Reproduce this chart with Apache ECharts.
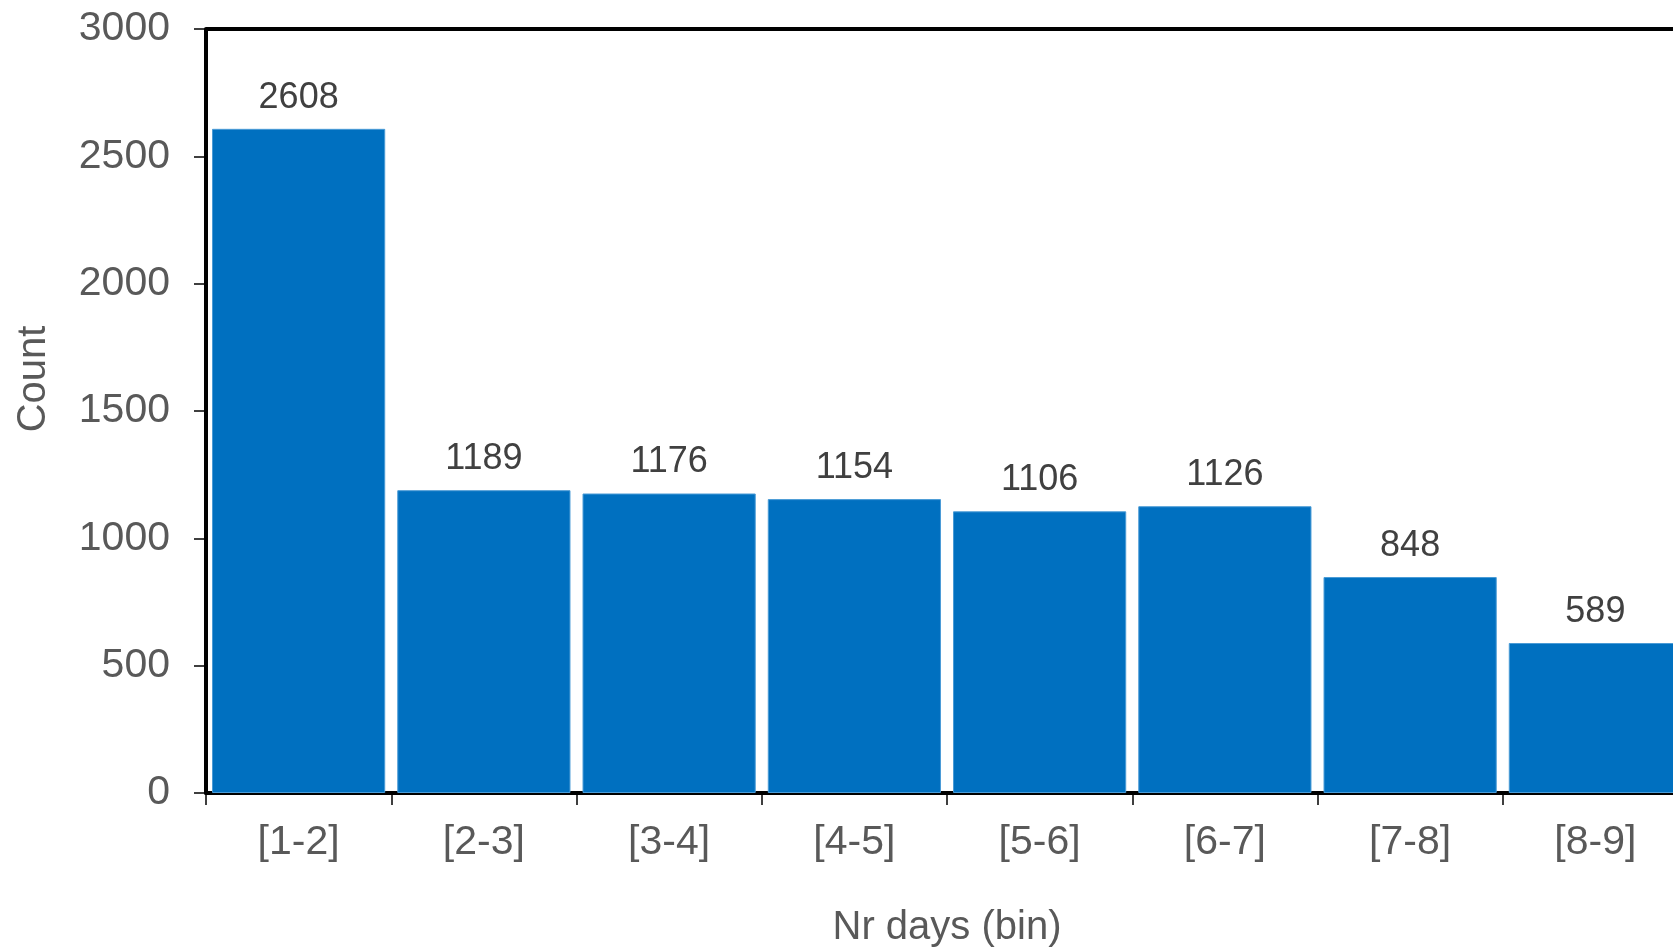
<!DOCTYPE html>
<html>
<head>
<meta charset="utf-8">
<script src="https://cdn.jsdelivr.net/npm/echarts@6/dist/echarts.min.js"></script>
<style>
html,body{margin:0;padding:0;background:#fff;}
#chart{width:1673px;height:949px;}
</style>
</head>
<body>
<div id="chart"></div>
<script>
const categories = ['[1-2]','[2-3]','[3-4]','[4-5]','[5-6]','[6-7]','[7-8]','[8-9]'];
const counts = [2608, 1189, 1176, 1154, 1106, 1126, 848, 589];
const xAxisName = 'Nr days (bin)';
const yAxisName = 'Count';

const FONT = '"Liberation Sans", Arial, sans-serif';
const chart = echarts.init(document.getElementById('chart'));
chart.setOption({
  animation: false,
  backgroundColor: '#ffffff',
  grid: { left: 206, top: 29, height: 764, width: 1482, containLabel: false,
          outerBoundsMode: 'none', show: false },
  xAxis: {
    type: 'category',
    data: categories,
    name: xAxisName,
    nameLocation: 'middle',
    nameGap: 115,
    nameTextStyle: { fontSize: 40, color: '#595959', fontFamily: FONT },
    axisLine: { show: true, lineStyle: { color: '#000', width: 4 } },
    axisTick: { show: true, length: 12, lineStyle: { color: '#000', width: 1.5 } },
    axisLabel: { fontSize: 41, color: '#595959', fontFamily: FONT, margin: 29 },
    splitLine: { show: false }
  },
  yAxis: {
    type: 'value',
    min: 0, max: 3000, interval: 500,
    name: yAxisName,
    nameLocation: 'middle',
    nameGap: 152,
    nameTextStyle: { fontSize: 40, color: '#595959', fontFamily: FONT, padding: [0, 0, 0, 64] },
    axisLine: { show: true, lineStyle: { color: '#000', width: 4 } },
    axisTick: { show: true, length: 12, lineStyle: { color: '#000', width: 1.5 } },
    axisLabel: { fontSize: 41, color: '#595959', fontFamily: FONT, margin: 36,
                 formatter: function (v) { return String(v); } },
    splitLine: { show: false }
  },
  series: [{
    type: 'bar',
    data: counts,
    barCategoryGap: '6.5%',
    itemStyle: { color: '#0070C0', borderColor: '#4A9BD6', borderWidth: 1 },
    label: { show: true, position: 'top', distance: 13, fontSize: 36, color: '#404040', fontFamily: FONT },
    markLine: {
      silent: true, symbol: 'none', label: { show: false },
      lineStyle: { color: '#000', width: 4, type: 'solid' },
      data: [{ yAxis: 3000 }]
    }
  }]
});
</script>
</body>
</html>
